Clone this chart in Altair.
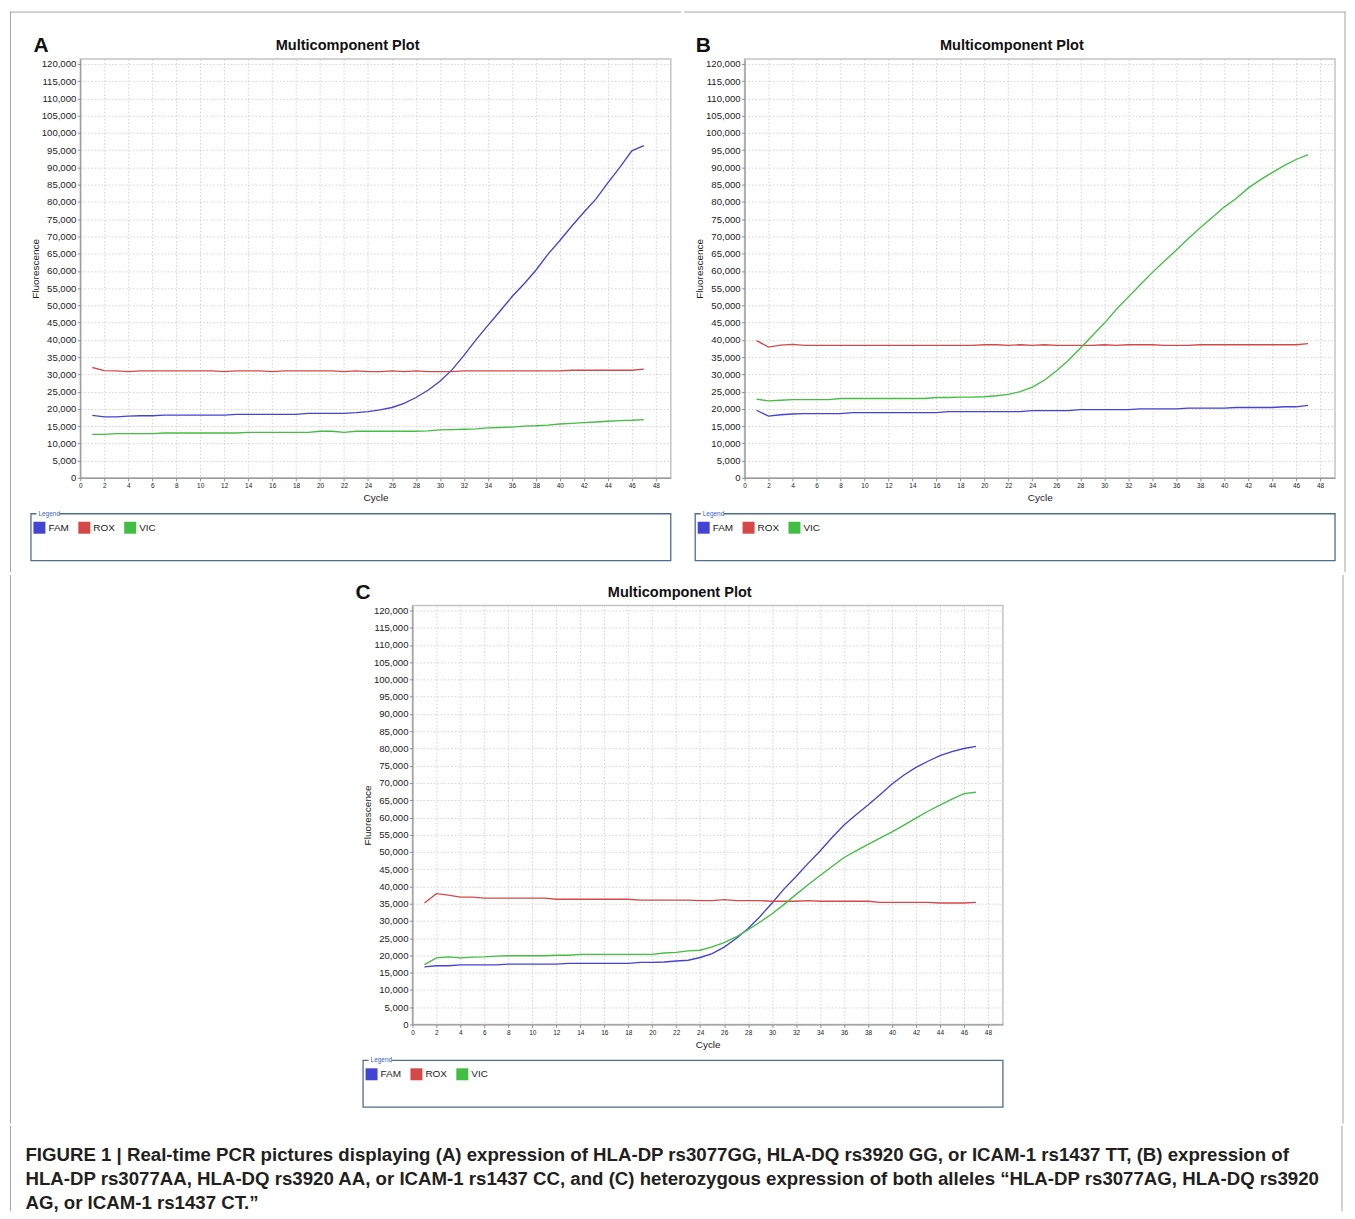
import altair as alt
import pandas as pd

# ---------------- data (fluorescence in thousands) ----------------
CYCLES = list(range(1, 48))
SERIES = ["FAM", "ROX", "VIC"]
LINE_COLORS = ["#4343d4", "#d64848", "#42bf42"]

A_FAM = [18.1, 17.7, 17.7, 17.9, 18.0, 18.0, 18.2, 18.2, 18.2, 18.2, 18.2, 18.2, 18.4, 18.4, 18.4, 18.4,
         18.4, 18.4, 18.7, 18.7, 18.7, 18.7, 18.9, 19.2, 19.7, 20.4, 21.6, 23.3, 25.4, 28.0, 31.3, 35.5,
         40.0, 44.2, 48.3, 52.5, 56.2, 60.2, 64.8, 68.8, 73.0, 77.0, 80.8, 85.5, 90.0, 94.8, 96.3]
A_ROX = [32.0, 31.1, 31.0, 30.8, 31.0, 31.0, 31.0, 31.0, 31.0, 31.0, 31.0, 30.8, 31.0, 31.0, 31.0, 30.8,
         31.0, 31.0, 31.0, 31.0, 31.0, 30.8, 31.0, 30.8, 30.8, 31.0, 30.8, 31.0, 30.8, 30.8, 30.8, 31.0,
         31.0, 31.0, 31.0, 31.0, 31.0, 31.0, 31.0, 31.0, 31.2, 31.2, 31.2, 31.2, 31.2, 31.2, 31.5]
A_VIC = [12.6, 12.6, 12.8, 12.8, 12.8, 12.8, 13.0, 13.0, 13.0, 13.0, 13.0, 13.0, 13.0, 13.2, 13.2, 13.2,
         13.2, 13.2, 13.2, 13.5, 13.5, 13.2, 13.5, 13.5, 13.5, 13.5, 13.5, 13.5, 13.6, 13.9, 14.0, 14.1,
         14.2, 14.5, 14.6, 14.7, 15.0, 15.1, 15.3, 15.6, 15.8, 16.0, 16.2, 16.4, 16.6, 16.7, 16.9]

B_FAM = [19.6, 17.9, 18.3, 18.5, 18.6, 18.6, 18.6, 18.6, 18.9, 18.9, 18.9, 18.9, 18.9, 18.9, 18.9, 18.9,
         19.2, 19.2, 19.2, 19.2, 19.2, 19.2, 19.2, 19.5, 19.5, 19.5, 19.5, 19.8, 19.8, 19.8, 19.8, 19.8,
         20.0, 20.0, 20.0, 20.0, 20.2, 20.2, 20.2, 20.2, 20.4, 20.4, 20.4, 20.4, 20.6, 20.6, 21.0]
B_ROX = [39.8, 37.9, 38.5, 38.7, 38.4, 38.4, 38.4, 38.4, 38.4, 38.4, 38.4, 38.4, 38.4, 38.4, 38.4, 38.4,
         38.4, 38.4, 38.4, 38.6, 38.6, 38.4, 38.6, 38.4, 38.6, 38.4, 38.4, 38.4, 38.4, 38.6, 38.4, 38.6,
         38.6, 38.6, 38.4, 38.4, 38.4, 38.6, 38.6, 38.6, 38.6, 38.6, 38.6, 38.6, 38.6, 38.6, 38.9]
B_VIC = [22.8, 22.3, 22.5, 22.7, 22.7, 22.7, 22.7, 23.0, 23.0, 23.0, 23.0, 23.0, 23.0, 23.0, 23.0, 23.3,
         23.3, 23.4, 23.4, 23.5, 23.8, 24.2, 25.0, 26.3, 28.3, 31.0, 34.0, 37.6, 41.2, 44.8, 48.8, 52.4,
         56.0, 59.5, 62.8, 66.0, 69.3, 72.5, 75.5, 78.5, 81.0, 84.0, 86.4, 88.5, 90.5, 92.3, 93.7]

C_FAM = [16.7, 17.0, 17.0, 17.25, 17.25, 17.25, 17.25, 17.5, 17.5, 17.5, 17.5, 17.5, 17.7, 17.7, 17.7, 17.7,
         17.7, 17.7, 18.0, 18.0, 18.1, 18.4, 18.6, 19.4, 20.5, 22.4, 24.9, 27.8, 31.3, 35.2, 39.3, 42.9,
         46.7, 50.3, 54.2, 57.8, 60.8, 63.6, 66.6, 69.7, 72.3, 74.5, 76.3, 77.9, 79.1, 80.0, 80.6]
C_ROX = [35.2, 37.9, 37.5, 36.9, 36.9, 36.6, 36.6, 36.6, 36.6, 36.6, 36.6, 36.3, 36.3, 36.3, 36.3, 36.3,
         36.3, 36.3, 36.05, 36.05, 36.05, 36.05, 36.05, 35.9, 35.9, 36.2, 35.9, 35.9, 35.9, 35.7, 35.7, 35.7,
         35.9, 35.7, 35.7, 35.7, 35.7, 35.7, 35.4, 35.4, 35.4, 35.4, 35.4, 35.2, 35.2, 35.2, 35.4]
C_VIC = [17.35, 19.3, 19.6, 19.3, 19.5, 19.6, 19.8, 19.9, 19.9, 19.9, 19.9, 20.05, 20.05, 20.3, 20.3, 20.3,
         20.3, 20.3, 20.3, 20.3, 20.7, 20.9, 21.3, 21.5, 22.5, 23.7, 25.35, 27.5, 29.7, 32.1, 34.8, 37.7,
         40.5, 43.2, 45.8, 48.4, 50.3, 52.2, 54.0, 55.8, 57.8, 59.8, 61.8, 63.6, 65.3, 66.9, 67.3]

X_TICKS = list(range(0, 49, 2))
Y_TICKS = list(range(0, 121, 5))
PLOT_TITLE = "Multicomponent Plot"
CAPTION = [
    "FIGURE 1 | Real-time PCR pictures displaying (A) expression of HLA-DP rs3077GG, HLA-DQ rs3920 GG, or ICAM-1 rs1437 TT, (B) expression of",
    "HLA-DP rs3077AA, HLA-DQ rs3920 AA, or ICAM-1 rs1437 CC, and (C) heterozygous expression of both alleles \u201cHLA-DP rs3077AG, HLA-DQ rs3920",
    "AG, or ICAM-1 rs1437 CT.\u201d",
]

# ---------------- styling ----------------
FONT = "Liberation Sans"
W, H = 592, 420
BORDER = "#a6a6a6"
ONE = pd.DataFrame({"k": [0]})
NO_FRAME = alt.ViewBackground(stroke="transparent", strokeWidth=0)


def rule(x, y, x2=None, y2=None, color=BORDER, width=1):
    enc = dict(x=alt.value(x), y=alt.value(y))
    if x2 is not None:
        enc["x2"] = alt.value(x2)
    if y2 is not None:
        enc["y2"] = alt.value(y2)
    return alt.Chart(ONE).mark_rule(color=color, strokeWidth=width, strokeCap="square").encode(**enc)


def panel(letter, letter_x, fam, rox, vic, borders):
    n = len(CYCLES)
    df = pd.DataFrame({
        "Cycle": CYCLES * 3,
        "Series": [SERIES[0]] * n + [SERIES[1]] * n + [SERIES[2]] * n,
        "Value": fam + rox + vic,
    })
    x = alt.X(
        "Cycle:Q",
        scale=alt.Scale(domain=[0, 49.25], nice=False, zero=False),
        axis=alt.Axis(values=X_TICKS, format="d", labelFontSize=6.5, labelPadding=2, tickSize=3,
                      labelFlush=False, labelOverlap=False, title="Cycle", titleFontSize=10,
                      titleFontWeight="normal", titleX=296, titleY=20, titleAlign="center",
                      titleBaseline="middle"),
    )
    y = alt.Y(
        "Value:Q",
        scale=alt.Scale(domain=[0, 121.45], nice=False, zero=True),
        axis=alt.Axis(values=Y_TICKS, labelExpr="format(datum.value * 1000, ',')", labelFontSize=9.6,
                      labelPadding=1.5, tickSize=3, labelOverlap=False, title="Fluorescence",
                      titleFontSize=10, titleFontWeight="normal", titleX=-45, titleY=210,
                      titleAngle=270, titleAlign="center", titleBaseline="middle"),
    )
    lines = alt.Chart(df).mark_line(strokeWidth=1.35).encode(
        x=x, y=y,
        color=alt.Color("Series:N", scale=alt.Scale(domain=SERIES, range=LINE_COLORS),
                        legend=alt.Legend(title=None, orient="none", legendX=-47, legendY=464,
                                          direction="horizontal", symbolType="square", symbolSize=36,
                                          symbolStrokeWidth=6, labelFontSize=10, labelColor="#222222",
                                          labelOffset=3, columnPadding=0, labelFont=FONT)),
    )
    box = alt.Chart(ONE).mark_rect(filled=False, stroke="#4f6d8c", strokeWidth=1.3).encode(
        x=alt.value(-49.5), x2=alt.value(592), y=alt.value(456), y2=alt.value(503)
    )
    legend_gap = alt.Chart(ONE).mark_rect(color="white").encode(
        x=alt.value(-44), x2=alt.value(-21), y=alt.value(453), y2=alt.value(459)
    )
    legend_word = alt.Chart(ONE).mark_text(text="Legend", font=FONT, fontSize=6.5, color="#3a64c0",
                                           align="left", baseline="middle").encode(
        x=alt.value(-42), y=alt.value(456)
    )
    letter_mark = alt.Chart(ONE).mark_text(text=letter, font=FONT, fontSize=21, fontWeight="bold",
                                           color="#111111", align="left", baseline="alphabetic").encode(
        x=alt.value(letter_x), y=alt.value(-7)
    )
    title_mark = alt.Chart(ONE).mark_text(text=PLOT_TITLE, font=FONT, fontSize=14.6, fontWeight="bold",
                                          color="#111111", align="center", baseline="middle").encode(
        x=alt.value(268), y=alt.value(-13)
    )
    layers = [box, legend_gap, legend_word, letter_mark, title_mark] + borders + [lines]
    return alt.layer(*layers).properties(width=W, height=H)


panel_a = panel("A", -47, A_FAM, A_ROX, A_VIC,
                [rule(-70, -47, x2=602), rule(-70, -47, y2=514)])
panel_b = panel("B", -49, B_FAM, B_ROX, B_VIC,
                [rule(-60, -47, x2=602), rule(602, -47, y2=514)])
panel_c = panel("C", -57, C_FAM, C_ROX, C_VIC,
                [rule(933, -30, y2=519)])

# left strip of the lower row: carries the figure's left border and pushes panel C to the centre
spacer = alt.layer(rule(-70, -30, y2=519)).properties(width=275, height=H, view=NO_FRAME)

row1 = alt.hconcat(panel_a, panel_b, spacing=0).resolve_scale(color="independent").resolve_legend(
    color="independent")
row2 = alt.hconcat(spacer, panel_c, spacing=0).resolve_scale(color="independent").resolve_legend(
    color="independent")

caption_text = alt.Chart(ONE).mark_text(
    text=CAPTION, font=FONT, fontSize=18.7, fontWeight="bold", lineHeight=24, color="#231f20",
    align="left", baseline="alphabetic"
).encode(x=alt.value(-55), y=alt.value(35))
caption = alt.layer(
    caption_text, rule(-70, 0, y2=85), rule(1265, 0, y2=85)
).properties(width=1200, height=78, view=NO_FRAME)

chart = alt.vconcat(row1, row2, caption, spacing=0).resolve_scale(color="independent").resolve_legend(
    color="independent").properties(
    padding={"left": 0.5, "top": 0.5, "right": 0, "bottom": 0}
).configure_view(
    stroke="#c4c4c4", strokeWidth=1.5
).configure_axis(
    labelFont=FONT, titleFont=FONT, labelColor="#222222", titleColor="#222222",
    domainColor="#8f8f8f", tickColor="#8f8f8f", gridColor="#d2d2d2", gridDash=[1.5, 2],
    gridWidth=1, domainWidth=1
)

chart.save("out.html", embed_options={"renderer": "svg", "actions": False})
